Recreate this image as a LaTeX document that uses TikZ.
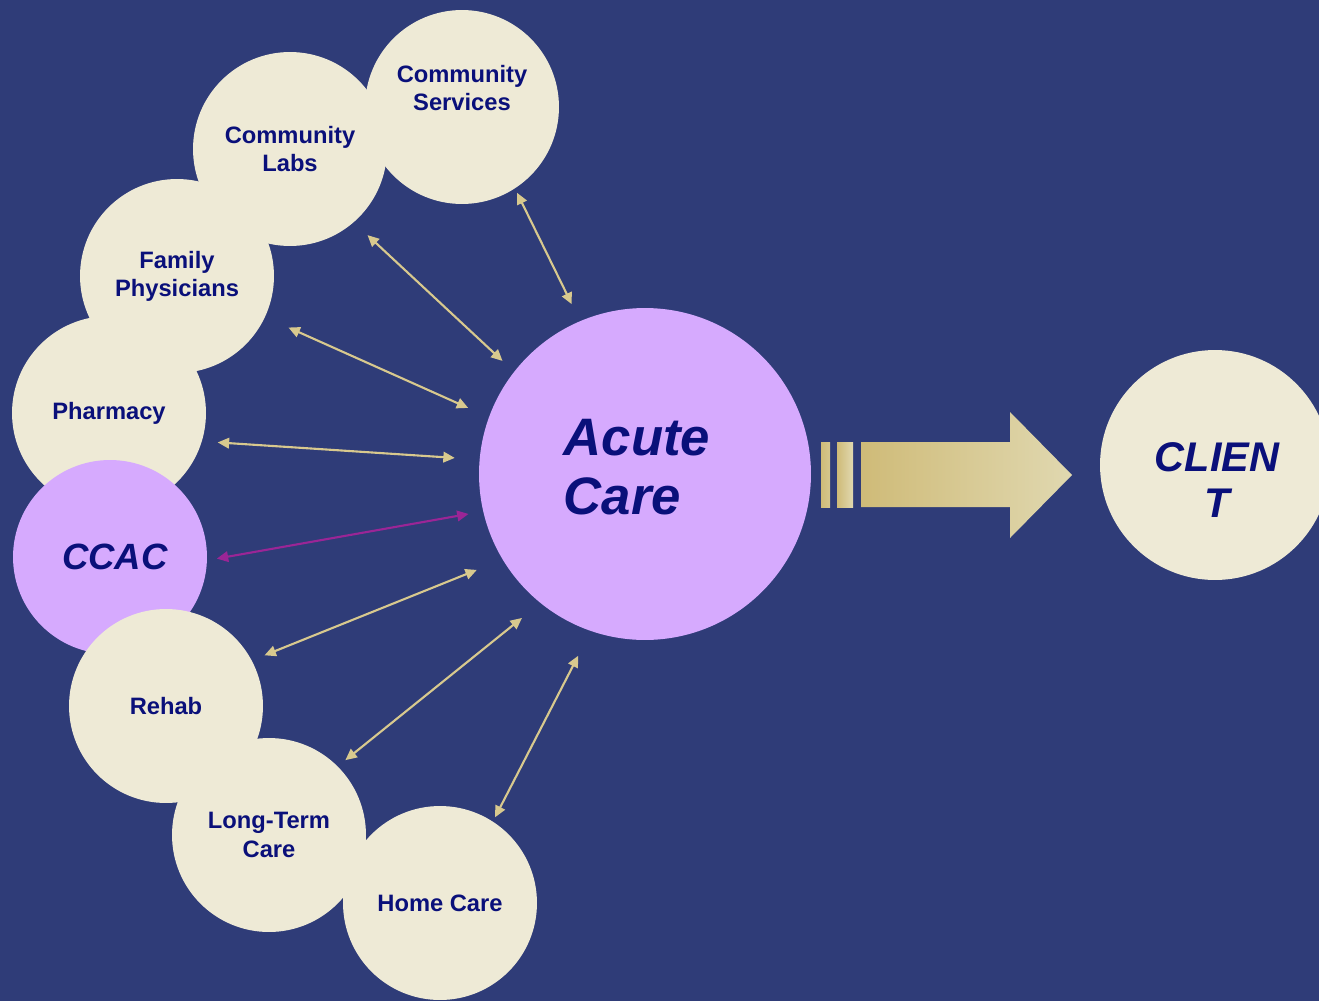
\documentclass[tikz,border=0pt]{standalone}
\usepackage{fontspec}
\setmainfont{Liberation Sans}
\usetikzlibrary{arrows.meta}

\definecolor{bgblue}{RGB}{47,60,120}
\definecolor{cream}{RGB}{238,234,214}
\definecolor{lilac}{RGB}{214,170,254}
\definecolor{txtnavy}{RGB}{10,16,122}
\definecolor{linkgold}{RGB}{216,201,142}
\definecolor{plum}{RGB}{155,37,150}
\definecolor{darkgold}{RGB}{207,187,120}
\definecolor{palegold}{RGB}{224,216,176}

\tikzset{
  ring/.style={circle, fill=cream, minimum size=3.88cm, inner sep=0pt, outer sep=0pt,
    text=txtnavy, align=center, font=\bfseries\fontsize{13.5}{16}\selectfont},
  ringtext/.style={text=txtnavy, align=center, font=\bfseries\fontsize{13.5}{16}\selectfont},
  bigtext/.style 2 args={text=txtnavy, font=\bfseries\itshape\fontsize{#1}{#2}\selectfont},
  link/.style={{Triangle[length=6.5pt,width=6pt]}-{Triangle[length=6.5pt,width=6pt]},
    line width=1.2pt, linkgold},
}

\begin{document}
\begin{tikzpicture}[x=0.02cm, y=-0.02cm]

    %background
    \fill[bgblue] (0,0) rectangle (1319,1001);
    \useasboundingbox (0,0) rectangle (1319,1001);

    %partners
    \node[ring] (labs) at (290,149) {Community\\Labs};
    \node[ring, label={[ringtext, yshift=0.38cm]center:{Community\\Services}}] (serv) at (462,107) {};
    \node[ring] (fam) at (177,276) {Family\\Physicians};
    \node[ring] (pharm) at (109,413) {Pharmacy};
    \node[ring, fill=lilac, label={[bigtext={20.8}{24}, xshift=0.1cm]center:CCAC}] (ccac) at (110,557) {};
    \node[ring] (rehab) at (166,706) {Rehab};
    \node[ring] (ltc) at (269,835) {Long-Term\\Care};
    \node[ring] (home) at (440,903) {Home Care};

    %hospital and client
    \node[ring, fill=lilac, minimum size=6.64cm,
      label={[bigtext={30}{33.5}, align=left, xshift=-0.16cm, yshift=0.14cm]center:{Acute\\Care}}] (acute) at (645,474) {};
    \node[ring, minimum size=4.6cm,
      label={[bigtext={23.6}{26.6}, align=center, xshift=0.04cm, yshift=-0.3cm]center:{CLIEN\\T}}] (client) at (1215,465) {};

    %links
    \foreach \n/\a/\b/\s/\e in {serv/-57/113.5/2.8/10.8, labs/-49.2/142.1/10.8/9.1,
      fam/-25.5/160.5/14.7/13.0, pharm/-17/175/9.1/14.2, rehab/28.4/211.3/7.9/15.9,
      ltc/45.4/231/5.7/13.6, home/57.9/251/2.8/15.9}
    \draw[link, shorten <=\s pt, shorten >=\e pt] (\n.\a) -- (acute.\b);
    \draw[link, plum, shorten <=5.7pt, shorten >=8.5pt] (ccac.-2.7) -- (acute.193.7);

    %big arrow
    \shade[left color=darkgold, right color=darkgold!60!palegold] (821,442) rectangle (830,507);
    \shade[left color=darkgold, right color=palegold] (837,442) rectangle (853,507);
    \shade[left color=darkgold, right color=palegold]
      (861,442) -- (1010,442) -- (1010,412) -- (1072,475) -- (1010,538) -- (1010,507) -- (861,507) -- cycle;

\end{tikzpicture}
\end{document}
